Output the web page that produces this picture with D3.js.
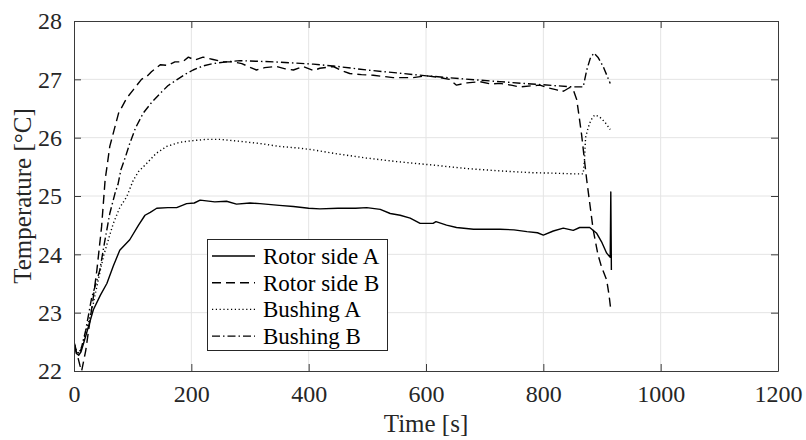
<!DOCTYPE html>
<html>
<head>
<meta charset="utf-8">
<script src="https://cdn.jsdelivr.net/npm/d3@7"></script>
<style>
html,body{margin:0;padding:0;background:#fff;}
svg{display:block;}
</style>
</head>
<body>
<svg id="chart" width="806" height="440"></svg>
<script>
// ---- data ----
const xTicks = [0, 200, 400, 600, 800, 1000, 1200];
const yTicks = [22, 23, 24, 25, 26, 27, 28];
const seriesNames = ["Rotor side A", "Rotor side B", "Bushing A", "Bushing B"];

const rotorATime = [0,4,8,12,20,33,45,56,67,78,95,110,121,130,141,160,175,192,205,215,240,260,277,300,317,350,374,400,419,450,480,499,522,539,556,573,590,612,617,635,652,681,700,726,750,772,790,800,817,834,851,862,879,891,900,908,914,915,916];
const rotorATemp = [22.5,22.3,22.27,22.33,22.6,23.05,23.3,23.5,23.8,24.07,24.25,24.5,24.67,24.72,24.79,24.8,24.8,24.87,24.88,24.93,24.9,24.91,24.86,24.88,24.87,24.84,24.82,24.79,24.78,24.79,24.79,24.8,24.77,24.7,24.67,24.62,24.53,24.53,24.56,24.5,24.46,24.43,24.43,24.43,24.42,24.39,24.37,24.33,24.4,24.45,24.41,24.46,24.46,24.36,24.2,24.02,23.95,25.07,23.73];

const rotorBTime = [0,5,10,13,20,33,39,47,53,61,76,90,101,115,124,132,147,160,172,185,195,206,220,237,255,270,286,297,311,325,345,360,374,390,408,419,442,456,470,490,510,544,578,601,624,640,652,670,692,710,726,745,760,780,794,810,823,828,835,845,851,857,865,874,885,893,899,908,912,915];
const rotorBTemp = [22.45,22.3,22.1,22.0,22.35,23.27,23.73,24.47,25.27,25.85,26.42,26.68,26.82,27.0,27.05,27.13,27.25,27.24,27.3,27.3,27.38,27.33,27.38,27.34,27.3,27.3,27.27,27.22,27.16,27.2,27.22,27.18,27.16,27.22,27.15,27.19,27.22,27.15,27.1,27.08,27.07,27.03,27.03,27.06,27.03,27.0,26.9,26.94,26.96,26.92,26.93,26.9,26.87,26.89,26.9,26.85,26.82,26.79,26.8,26.86,26.82,26.65,26.07,25.27,24.42,24.0,23.79,23.56,23.3,23.05];

const bushingATime = [0,4,8,12,20,33,40,50,60,67,78,90,101,110,124,140,158,180,203,225,249,280,317,350,385,408,450,499,550,612,670,726,780,823,850,868,870,872,875,879,884,888,893,899,907,914];
const bushingATemp = [22.5,22.35,22.3,22.38,22.65,23.16,23.5,23.96,24.3,24.53,24.8,24.99,25.27,25.42,25.56,25.73,25.85,25.92,25.95,25.97,25.97,25.94,25.9,25.85,25.82,25.79,25.72,25.65,25.59,25.53,25.47,25.43,25.4,25.39,25.38,25.38,25.6,26.0,26.12,26.25,26.35,26.39,26.37,26.33,26.24,26.14];

const bushingBTime = [0,4,8,12,20,30,44,52,61,70,75,80,87,95,105,118,132,147,160,175,190,203,220,237,260,283,310,340,375,408,450,499,550,601,660,726,780,823,851,868,874,880,886,893,902,914];
const bushingBTemp = [22.5,22.35,22.3,22.37,22.7,23.25,23.73,24.2,24.7,25.05,25.2,25.45,25.65,25.9,26.17,26.42,26.6,26.76,26.89,26.99,27.09,27.16,27.23,27.27,27.3,27.32,27.31,27.3,27.28,27.26,27.22,27.16,27.11,27.06,27.01,26.96,26.92,26.89,26.87,26.87,27.16,27.36,27.45,27.38,27.22,26.93];

// ---- layout ----
const W = 806, H = 440;
const m = {left: 74, right: 28, top: 21, bottom: 69};
const pw = W - m.left - m.right, ph = H - m.top - m.bottom;
const font = "'Liberation Serif','Times New Roman',Times,serif";
const axisColor = "#3a3a3a";

const svg = d3.select("#chart");
const x = d3.scaleLinear().domain([0, 1200]).range([m.left, m.left + pw]);
const y = d3.scaleLinear().domain([22, 28]).range([m.top + ph, m.top]);

// grid
const g = svg.append("g");
g.selectAll("line.gx").data(xTicks.slice(1, -1)).join("line")
  .attr("x1", d => x(d)).attr("x2", d => x(d))
  .attr("y1", m.top).attr("y2", m.top + ph)
  .attr("stroke", "#e4e4e4").attr("stroke-width", 1);
g.selectAll("line.gy").data(yTicks.slice(1, -1)).join("line")
  .attr("x1", m.left).attr("x2", m.left + pw)
  .attr("y1", d => y(d)).attr("y2", d => y(d))
  .attr("stroke", "#e4e4e4").attr("stroke-width", 1);

// series
const series = [
  {name: seriesNames[0], t: rotorATime, v: rotorATemp, dash: null},
  {name: seriesNames[1], t: rotorBTime, v: rotorBTemp, dash: "9,5"},
  {name: seriesNames[2], t: bushingATime, v: bushingATemp, dash: "1.2,2.6"},
  {name: seriesNames[3], t: bushingBTime, v: bushingBTemp, dash: "8,3,1.5,3"}
];

svg.append("clipPath").attr("id", "clip").append("rect")
  .attr("x", m.left).attr("y", m.top).attr("width", pw).attr("height", ph);

const line = d3.line().x(d => x(d[0])).y(d => y(d[1]));
const lg = svg.append("g").attr("clip-path", "url(#clip)");
series.forEach(s => {
  lg.append("path")
    .datum(s.t.map((t, i) => [t, s.v[i]]))
    .attr("d", line)
    .attr("fill", "none")
    .attr("stroke", "#000")
    .attr("stroke-width", 1.4)
    .attr("stroke-linejoin", "round")
    .attr("stroke-dasharray", s.dash);
});

// axes
const tickLen = 7;
const xAxisB = d3.axisBottom(x).tickValues(xTicks).tickSizeInner(-tickLen).tickSizeOuter(0).tickPadding(14).tickFormat(d3.format("d"));
const xAxisT = d3.axisTop(x).tickValues(xTicks).tickSizeInner(-tickLen).tickSizeOuter(0).tickFormat("");
const yAxisL = d3.axisLeft(y).tickValues(yTicks).tickSizeInner(-tickLen).tickSizeOuter(0).tickPadding(12).tickFormat(d3.format("d"));
const yAxisR = d3.axisRight(y).tickValues(yTicks).tickSizeInner(-tickLen).tickSizeOuter(0).tickFormat("");

function styleAxis(sel) {
  sel.select(".domain").attr("stroke", axisColor).attr("stroke-width", 1);
  sel.selectAll(".tick line").attr("stroke", axisColor).attr("stroke-width", 1);
  sel.selectAll(".tick text").attr("fill", "#262626").style("font-family", font).style("font-size", "24px");
}
svg.append("g").attr("transform", `translate(0,${m.top + ph})`).call(xAxisB).call(styleAxis);
svg.append("g").attr("transform", `translate(0,${m.top})`).call(xAxisT).call(styleAxis);
svg.append("g").attr("transform", `translate(${m.left},0)`).call(yAxisL).call(styleAxis);
svg.append("g").attr("transform", `translate(${m.left + pw},0)`).call(yAxisR).call(styleAxis);

// axis labels
svg.append("text")
  .attr("x", m.left + pw / 2).attr("y", 432)
  .attr("text-anchor", "middle")
  .attr("fill", "#262626")
  .style("font-family", font).style("font-size", "25px")
  .text("Time [s]");
svg.append("text")
  .attr("transform", `translate(31,${m.top + ph / 2}) rotate(-90)`)
  .attr("text-anchor", "middle")
  .attr("fill", "#262626")
  .style("font-family", font).style("font-size", "25px")
  .text("Temperature [°C]");

// legend
const lgX = 207, lgY = 239, lgW = 180, lgH = 111;
const leg = svg.append("g");
leg.append("rect").attr("x", lgX + 0.5).attr("y", lgY + 0.5).attr("width", lgW).attr("height", lgH)
  .attr("fill", "#fff").attr("stroke", "#262626").attr("stroke-width", 1);
const rowH = 26.7;
series.forEach((s, i) => {
  const cy = lgY + 17 + i * rowH;
  leg.append("line").attr("x1", lgX + 5).attr("x2", lgX + 48).attr("y1", cy).attr("y2", cy)
    .attr("stroke", "#000").attr("stroke-width", 1.4).attr("stroke-dasharray", s.dash);
  leg.append("text").attr("x", lgX + 56).attr("y", cy).attr("dy", "0.35em")
    .attr("fill", "#000")
    .style("font-family", font).style("font-size", "23px")
    .text(s.name);
});
</script>
</body>
</html>
